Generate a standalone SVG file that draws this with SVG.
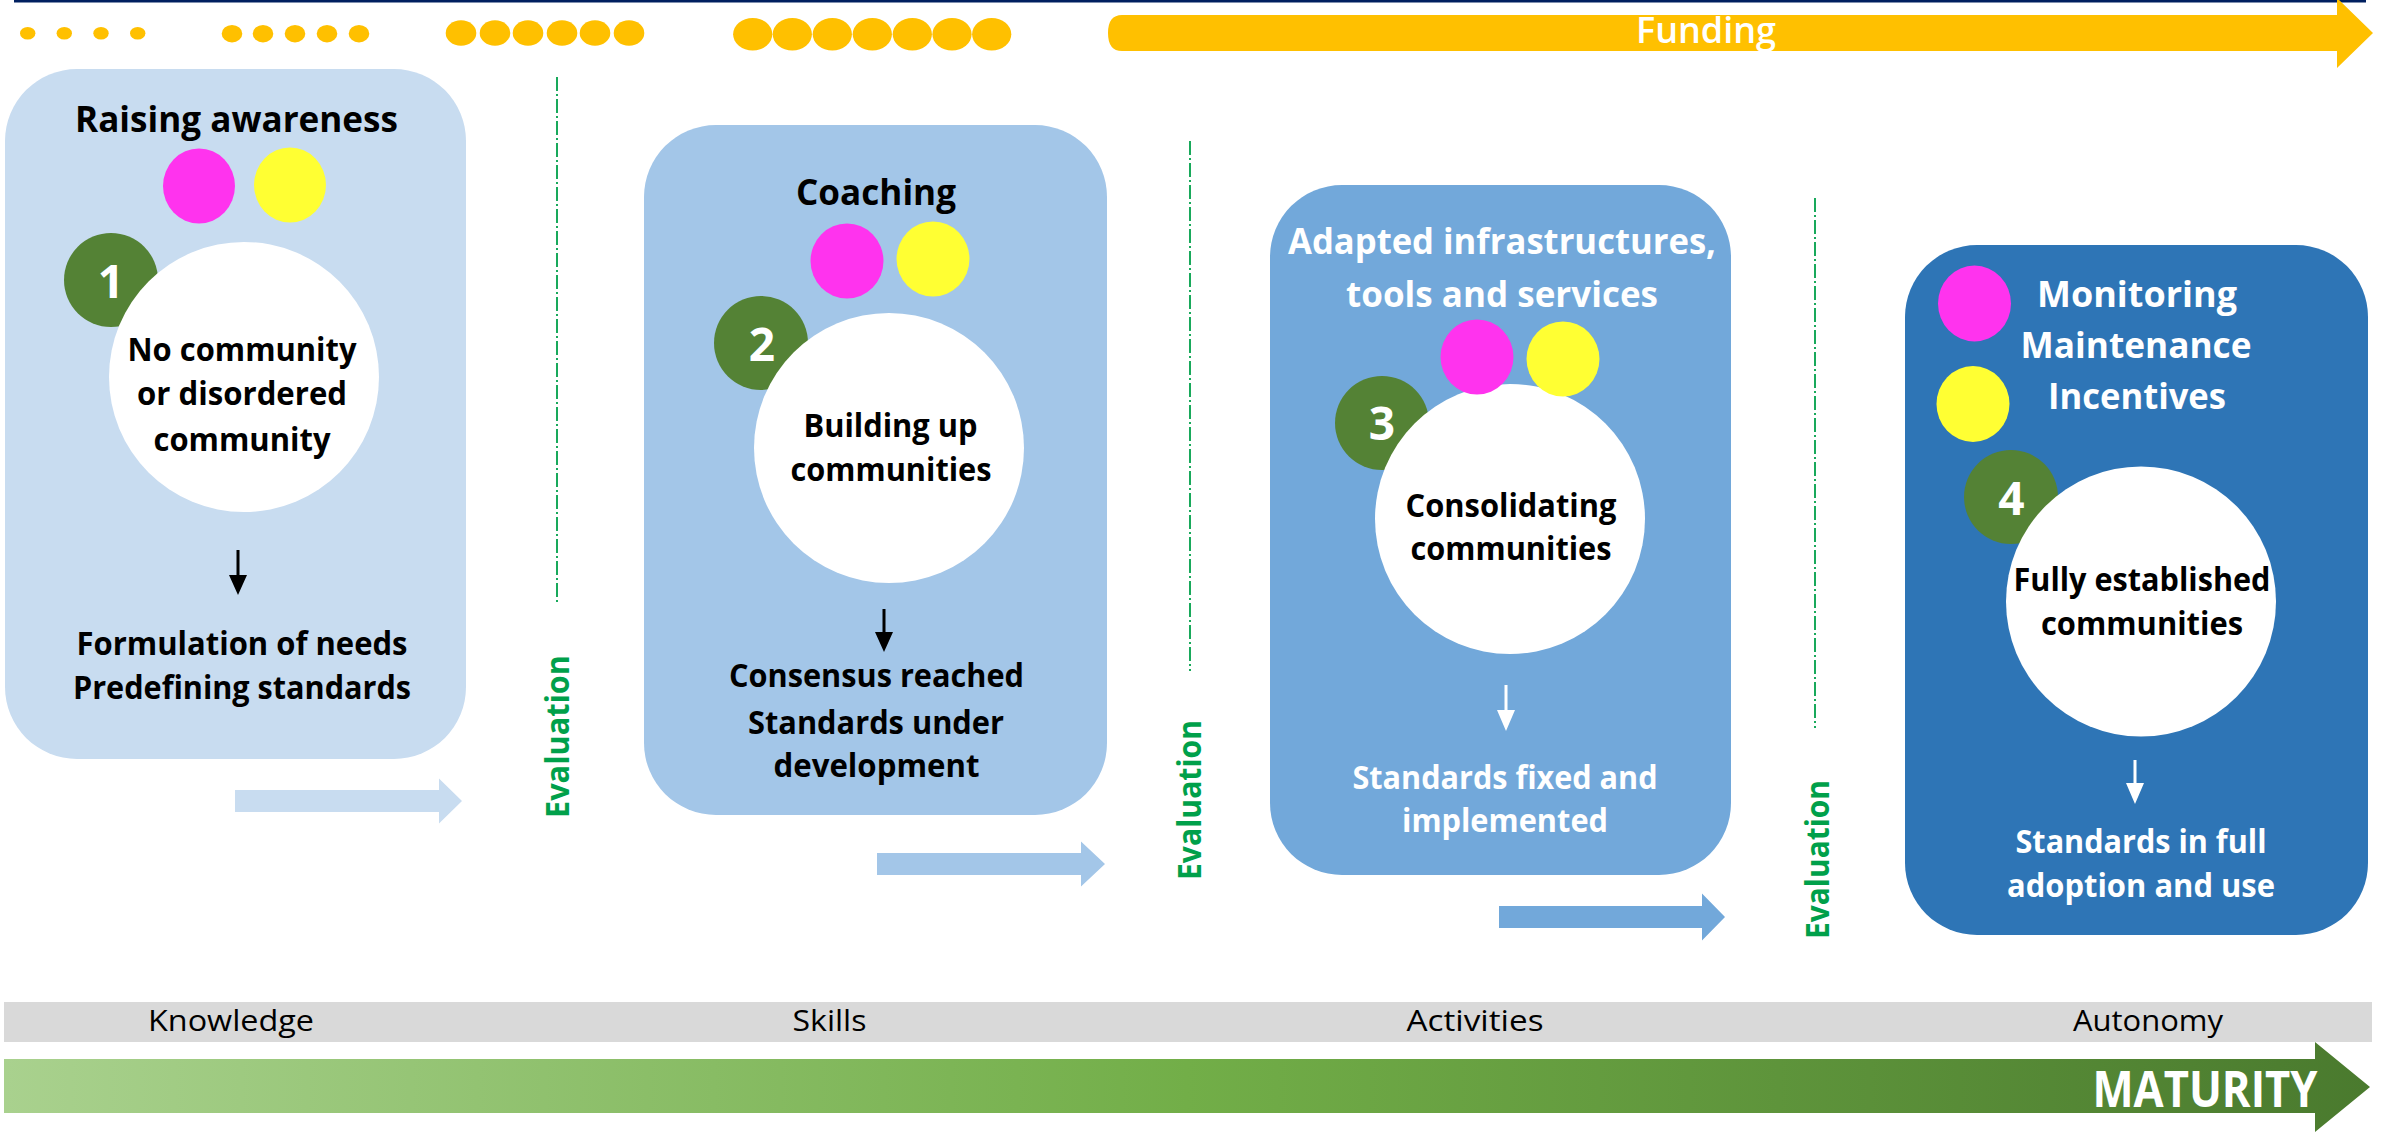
<svg xmlns="http://www.w3.org/2000/svg" width="2390" height="1135" viewBox="0 0 2390 1135">
<defs>
<linearGradient id="matGrad" x1="0" y1="0" x2="1" y2="0">
<stop offset="0" stop-color="#a9d18e"/>
<stop offset="0.5" stop-color="#72ae48"/>
<stop offset="1" stop-color="#4a7a2e"/>
</linearGradient>
<style>
.t{font-family:"Open Sans","Liberation Sans",sans-serif;text-anchor:middle}
.b{font-weight:bold}
.blk{fill:#000}
.wht{fill:#fff}
.title{font-size:36px}
.body{font-size:33px}
.num{font-size:46px;font-weight:bold;fill:#fff}
.lbl{font-size:30px;fill:#000}
.eval{font-size:32px;font-weight:bold;fill:#00a04a}
.dot{fill:#ffc000}
.mag{fill:#ff33ee}
.yel{fill:#ffff33}
.grn{fill:#548235}
.whc{fill:#fff}
.evl{stroke:#00a04a;stroke-width:1.8;fill:none;stroke-dasharray:14 3 2 3}
</style>
</defs>
<rect x="14" y="0" width="2352" height="2.5" fill="#002060"/>
<g id="dots">
<ellipse class="dot" cx="27.7" cy="33.3" rx="7.7" ry="6.3"/>
<ellipse class="dot" cx="64.3" cy="33.3" rx="7.7" ry="6.3"/>
<ellipse class="dot" cx="101" cy="33.3" rx="7.7" ry="6.3"/>
<ellipse class="dot" cx="137.7" cy="33.3" rx="7.7" ry="6.3"/>
<ellipse class="dot" cx="232" cy="33.7" rx="10.3" ry="8.7"/>
<ellipse class="dot" cx="263" cy="33.7" rx="10.3" ry="8.7"/>
<ellipse class="dot" cx="295" cy="33.7" rx="10.3" ry="8.7"/>
<ellipse class="dot" cx="327" cy="33.7" rx="10.3" ry="8.7"/>
<ellipse class="dot" cx="359" cy="33.7" rx="10.3" ry="8.7"/>
<ellipse class="dot" cx="461" cy="33" rx="15.3" ry="12.7"/>
<ellipse class="dot" cx="495" cy="33" rx="15.3" ry="12.7"/>
<ellipse class="dot" cx="528" cy="33" rx="15.3" ry="12.7"/>
<ellipse class="dot" cx="562" cy="33" rx="15.3" ry="12.7"/>
<ellipse class="dot" cx="595" cy="33" rx="15.3" ry="12.7"/>
<ellipse class="dot" cx="629" cy="33" rx="15.3" ry="12.7"/>
<ellipse class="dot" cx="752.7" cy="34.3" rx="19.6" ry="16.3"/>
<ellipse class="dot" cx="792.3" cy="34.3" rx="19.6" ry="16.3"/>
<ellipse class="dot" cx="832.3" cy="34.3" rx="19.6" ry="16.3"/>
<ellipse class="dot" cx="872.3" cy="34.3" rx="19.6" ry="16.3"/>
<ellipse class="dot" cx="912.3" cy="34.3" rx="19.6" ry="16.3"/>
<ellipse class="dot" cx="952" cy="34.3" rx="19.6" ry="16.3"/>
<ellipse class="dot" cx="991.7" cy="34.3" rx="19.6" ry="16.3"/>
</g>
<g id="funding">
<path d="M1122,15 H2337 V-2 L2373,33 L2337,68 V51 H1122 Q1108,51 1108,33 Q1108,15 1122,15 Z" fill="#ffc000"/>
<text class="t wht" x="1706" y="43" font-size="36" font-weight="600" textLength="140" lengthAdjust="spacingAndGlyphs">Funding</text>
</g>

<g id="stage1">
<rect x="5" y="69" width="461" height="690" rx="72" ry="72" fill="#c8dcf0"/>
<text class="t b blk title" x="236.5" y="131.5" textLength="323" lengthAdjust="spacingAndGlyphs">Raising awareness</text>
<ellipse class="grn" cx="111" cy="280" rx="47" ry="47"/>
<text class="t num" x="111" y="298">1</text>
<ellipse class="whc" cx="244" cy="377" rx="135" ry="135"/>
<ellipse class="mag" cx="199" cy="186" rx="36" ry="37.5"/>
<ellipse class="yel" cx="290" cy="185" rx="36" ry="37.5"/>
<text class="t b blk body" x="242" y="361" textLength="229" lengthAdjust="spacingAndGlyphs">No community</text>
<text class="t b blk body" x="242" y="405" textLength="210" lengthAdjust="spacingAndGlyphs">or disordered</text>
<text class="t b blk body" x="242" y="451" textLength="177" lengthAdjust="spacingAndGlyphs">community</text>
<text class="t b blk body" x="242" y="655" textLength="331" lengthAdjust="spacingAndGlyphs">Formulation of needs</text>
<text class="t b blk body" x="242" y="699" textLength="338" lengthAdjust="spacingAndGlyphs">Predefining standards</text>
</g>

<g id="stage2">
<rect x="644" y="125" width="463" height="690" rx="72" ry="72" fill="#a3c6e8"/>
<text class="t b blk title" x="876" y="205" textLength="160" lengthAdjust="spacingAndGlyphs">Coaching</text>
<ellipse class="grn" cx="761" cy="343" rx="47" ry="47"/>
<text class="t num" x="762" y="361">2</text>
<ellipse class="whc" cx="889" cy="448" rx="135" ry="135"/>
<ellipse class="mag" cx="847" cy="261" rx="36.5" ry="37.5"/>
<ellipse class="yel" cx="933" cy="259" rx="36.5" ry="37.5"/>
<text class="t b blk body" x="890.5" y="437" textLength="174" lengthAdjust="spacingAndGlyphs">Building up</text>
<text class="t b blk body" x="891" y="481" textLength="201" lengthAdjust="spacingAndGlyphs">communities</text>
<text class="t b blk body" x="876.5" y="687" textLength="295" lengthAdjust="spacingAndGlyphs">Consensus reached</text>
<text class="t b blk body" x="876" y="734" textLength="256" lengthAdjust="spacingAndGlyphs">Standards under</text>
<text class="t b blk body" x="876.5" y="777" textLength="206" lengthAdjust="spacingAndGlyphs">development</text>
</g>

<g id="stage3">
<rect x="1270" y="185" width="461" height="690" rx="72" ry="72" fill="#72a8da"/>
<text class="t b wht title" x="1502" y="254" textLength="428" lengthAdjust="spacingAndGlyphs">Adapted infrastructures,</text>
<text class="t b wht title" x="1502" y="307" textLength="312" lengthAdjust="spacingAndGlyphs">tools and services</text>
<ellipse class="grn" cx="1382" cy="423" rx="47" ry="47"/>
<text class="t num" x="1382" y="440">3</text>
<ellipse class="whc" cx="1510" cy="519" rx="135" ry="135"/>
<ellipse class="mag" cx="1477" cy="357" rx="36.5" ry="37.5"/>
<ellipse class="yel" cx="1563" cy="359" rx="36.5" ry="37.5"/>
<text class="t b blk body" x="1511" y="517" textLength="211" lengthAdjust="spacingAndGlyphs">Consolidating</text>
<text class="t b blk body" x="1511" y="560" textLength="201" lengthAdjust="spacingAndGlyphs">communities</text>
<text class="t b wht body" x="1505" y="789" textLength="305" lengthAdjust="spacingAndGlyphs">Standards fixed and</text>
<text class="t b wht body" x="1505" y="832" textLength="206" lengthAdjust="spacingAndGlyphs">implemented</text>
</g>

<g id="stage4">
<rect x="1905" y="245" width="463" height="690" rx="72" ry="72" fill="#2e75b6"/>
<ellipse class="mag" cx="1974.5" cy="303.5" rx="36.5" ry="38"/>
<ellipse class="yel" cx="1973" cy="404" rx="36.5" ry="38"/>
<text class="t b wht title" x="2137" y="307" textLength="200" lengthAdjust="spacingAndGlyphs">Monitoring</text>
<text class="t b wht title" x="2136" y="358" textLength="231" lengthAdjust="spacingAndGlyphs">Maintenance</text>
<text class="t b wht title" x="2137" y="409" textLength="178" lengthAdjust="spacingAndGlyphs">Incentives</text>
<ellipse class="grn" cx="2011" cy="497" rx="47" ry="47"/>
<text class="t num" x="2011.5" y="514.5">4</text>
<ellipse class="whc" cx="2141" cy="601.5" rx="135" ry="135"/>
<text class="t b blk body" x="2142" y="590.5" textLength="257" lengthAdjust="spacingAndGlyphs">Fully established</text>
<text class="t b blk body" x="2142" y="635" textLength="202" lengthAdjust="spacingAndGlyphs">communities</text>
<text class="t b wht body" x="2141" y="853" textLength="251" lengthAdjust="spacingAndGlyphs">Standards in full</text>
<text class="t b wht body" x="2141" y="896.5" textLength="268" lengthAdjust="spacingAndGlyphs">adoption and use</text>
</g>

<g id="connectors">
<path d="M236.5,550 H239.5 V575 H247 L238,595 L229,575 H236.5 Z" fill="#000"/>
<path d="M882.5,609 H885.5 V632 H893 L884,652 L875,632 H882.5 Z" fill="#000"/>
<path d="M1504.5,685 H1507.5 V710 H1515 L1506,731 L1497,710 H1504.5 Z" fill="#fff"/>
<path d="M2133.5,760 H2136.5 V783 H2144 L2135,804 L2126,783 H2133.5 Z" fill="#fff"/>
<path d="M235,790 H439 V778.5 L462,801 L439,823.5 V812 H235 Z" fill="#c8dcf0"/>
<path d="M877,853 H1081 V841.5 L1105,864 L1081,886.5 V875 H877 Z" fill="#a3c6e8"/>
<path d="M1499,906 H1702 V893.5 L1725,917 L1702,940.5 V928 H1499 Z" fill="#72a8da"/>
<line class="evl" x1="557" y1="77" x2="557" y2="605"/>
<line class="evl" x1="1190" y1="141" x2="1190" y2="671"/>
<line class="evl" x1="1815" y1="198" x2="1815" y2="728"/>
</g>

<g id="evaluations">
<text class="t eval" transform="translate(569,736.5) rotate(-90)" textLength="163" lengthAdjust="spacingAndGlyphs">Evaluation</text>
<text class="t eval" transform="translate(1201,800) rotate(-90)" textLength="160" lengthAdjust="spacingAndGlyphs">Evaluation</text>
<text class="t eval" transform="translate(1829,859.5) rotate(-90)" textLength="159" lengthAdjust="spacingAndGlyphs">Evaluation</text>
</g>

<g id="levels">
<rect x="4" y="1002" width="2368" height="40" fill="#d9d9d9"/>
<text class="t lbl" x="231" y="1031" textLength="166" lengthAdjust="spacingAndGlyphs">Knowledge</text>
<text class="t lbl" x="829.5" y="1031" textLength="74" lengthAdjust="spacingAndGlyphs">Skills</text>
<text class="t lbl" x="1475" y="1031" textLength="137" lengthAdjust="spacingAndGlyphs">Activities</text>
<text class="t lbl" x="2148" y="1031" textLength="150" lengthAdjust="spacingAndGlyphs">Autonomy</text>
</g>

<g id="maturity">
<path d="M4,1059 H2315 V1042 L2370,1087 L2315,1132 V1113 H4 Z" fill="url(#matGrad)"/>
<text class="t b wht" x="2205" y="1107" font-size="50" textLength="225" lengthAdjust="spacingAndGlyphs">MATURITY</text>
</g>
</svg>
